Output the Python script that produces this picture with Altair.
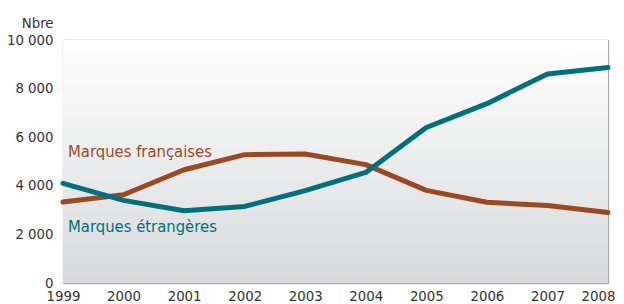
import altair as alt
import pandas as pd

years = [1999, 2000, 2001, 2002, 2003, 2004, 2005, 2006, 2007, 2008]
francaises = [3330, 3630, 4660, 5280, 5310, 4870, 3810, 3320, 3190, 2900]
etrangeres = [4100, 3400, 2970, 3150, 3800, 4550, 6400, 7380, 8600, 8870]
series_names = ["Marques françaises", "Marques étrangères"]
series_colors = ["#9a4a22", "#00717a"]
label_y = [5200, 2100]
y_ticks = [0, 2000, 4000, 6000, 8000, 10000]

df = pd.DataFrame({
    "year": years * 2,
    "value": francaises + etrangeres,
    "series": [series_names[0]] * len(years) + [series_names[1]] * len(years),
})
labels = pd.DataFrame({"year": [years[0]] * 2, "value": label_y, "series": series_names})

FONT = "DejaVu Sans Condensed"
FS = 14.8
W, H = 545, 243

x = alt.X("year:Q", scale=alt.Scale(domain=[1999, 2008], nice=False),
          axis=alt.Axis(values=years, format="d", title=None, grid=True,
                        gridColor="#a9a9a9", gridWidth=1.3, domain=False, ticks=False,
                        labelFont=FONT, labelFontSize=FS, labelColor="#333333",
                        labelPadding=5, labelFlush=False,
                        labelOffset={"condition": {"test": "datum.value == 2008", "value": -10},
                                     "value": 0}))
y = alt.Y("value:Q", scale=alt.Scale(domain=[0, 10000], nice=False),
          axis=alt.Axis(values=y_ticks, labelExpr="replace(format(datum.value, ','), ',', ' ')",
                        title="Nbre", titleAngle=0, titleAlign="right", titleBaseline="alphabetic",
                        titleX=-10, titleY=-13, titleFont=FONT, titleFontSize=FS,
                        titleFontWeight="normal", titleColor="#333333",
                        grid=True, gridColor="#a9a9a9", gridWidth=1.3, domain=False, ticks=False,
                        labelFont=FONT, labelFontSize=FS, labelColor="#333333", labelPadding=10))

color = alt.Color("series:N", scale=alt.Scale(domain=series_names, range=series_colors), legend=None)

bg = alt.Chart(pd.DataFrame({"a": [0]})).mark_rect(
    color=alt.LinearGradient(gradient="linear",
                             stops=[alt.GradientStop(color="#ffffff", offset=0),
                                    alt.GradientStop(color="#d8d9db", offset=1)],
                             x1=0, x2=0, y1=0, y2=1)
).encode(x=alt.value(0), x2=alt.value(W), y=alt.value(0), y2=alt.value(H))

lines = alt.Chart(df).mark_line(strokeWidth=5, strokeCap="round", strokeJoin="round").encode(
    x=x, y=y, color=color, detail="series:N")

texts = alt.Chart(labels).mark_text(align="left", baseline="alphabetic", dx=5,
                                    font=FONT, fontSize=16.5).encode(
    x=alt.X("year:Q"), y=alt.Y("value:Q"), text="series:N", color=color)

chart = alt.layer(bg, lines, texts).properties(
    width=W, height=H,
    autosize=alt.AutoSizeParams(type="none"),
    padding={"left": 55, "top": 32, "right": 8, "bottom": 21},
).configure_view(stroke=None).configure(background="#ffffff")

chart.save("out.html", embed_options={"renderer": "svg", "actions": False})
